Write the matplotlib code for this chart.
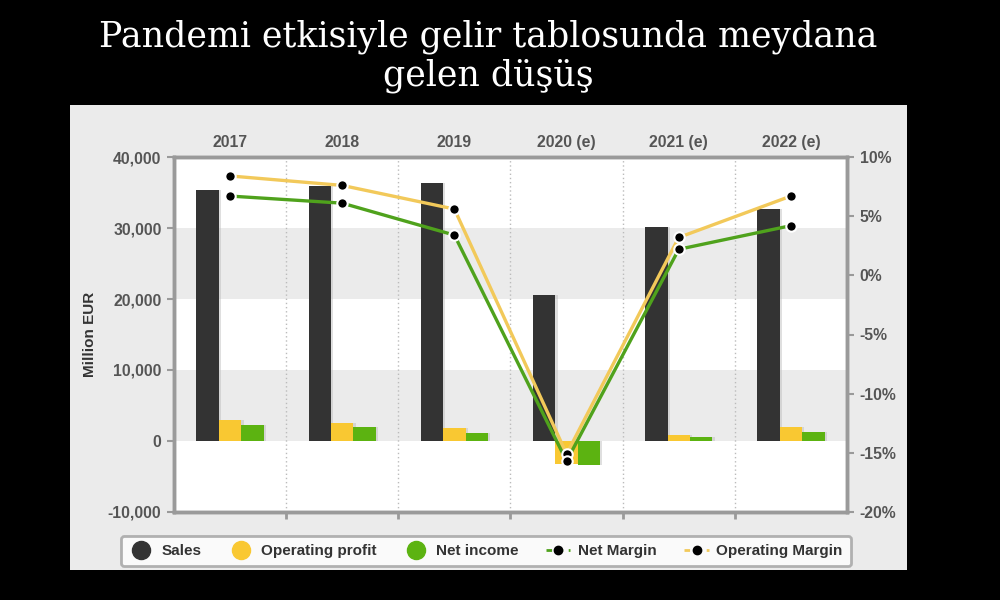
import matplotlib
matplotlib.use("Agg")
import matplotlib.pyplot as plt
import numpy as np
from matplotlib.lines import Line2D
from matplotlib.patches import Rectangle
from matplotlib.ticker import FuncFormatter

categories = ['2017', '2018', '2019', '2020 (e)', '2021 (e)', '2022 (e)']
sales = [35300, 35900, 36300, 20600, 30100, 32700]
operating_profit = [2900, 2600, 1800, -3300, 900, 2000]
net_income = [2200, 2000, 1100, -3400, 500, 1300]
operating_margin = [8.4, 7.6, 5.6, -15.1, 3.2, 6.7]
net_margin = [6.7, 6.1, 3.4, -15.7, 2.2, 4.2]
left_ticks = [-10000, 0, 10000, 20000, 30000, 40000]
right_ticks = [-20, -15, -10, -5, 0, 5, 10]

C_SALES = '#333333'
C_OP = '#F9C832'
C_NET = '#5CB311'
C_OPL = '#F2C95A'
C_NETL = '#4FA21C'
TICK_C = '#555555'
SPINE_C = '#9A9A9A'
FONT = 'Liberation Sans'

fig = plt.figure(figsize=(10, 6), dpi=100, facecolor='black')

# grey panel
fig.patches.append(Rectangle((0.07, 0.05), 0.837, 0.775, transform=fig.transFigure,
                             facecolor='#EBEBEB', edgecolor='none', zorder=0))

fig.text(0.4885, 0.9217, 'Pandemi etkisiyle gelir tablosunda meydana', ha='center', va='baseline',
         color='white', fontsize=25, family='DejaVu Serif')
fig.text(0.4885, 0.8567, 'gelen düşüş', ha='center', va='baseline',
         color='white', fontsize=25, family='DejaVu Serif')

ax = fig.add_axes([0.174, 0.1467, 0.673, 0.5916])
ax.set_facecolor('white')
ax.set_zorder(1)
x = np.arange(len(categories))
ax.set_xlim(-0.5, len(categories) - 0.5)
ax.set_ylim(-10000, 40000)

# horizontal bands
for lo, hi in [(0, 10000), (20000, 30000)]:
    ax.axhspan(lo, hi, color='#EBEBEB', zorder=0, lw=0)
# dotted separators
for b in np.arange(0.5, len(categories) - 0.5, 1):
    ax.axvline(b, color='#BBBBBB', ls=(0, (1, 2)), lw=1, zorder=0.5)

w = 0.2
# faint shadows
for off, vals in [(-w, sales), (0, operating_profit), (w, net_income)]:
    ax.bar(x + off + 0.02, vals, w, color='#B8B8B8', alpha=0.45, zorder=1.5)
ax.bar(x - w, sales, w, color=C_SALES, zorder=2)
ax.bar(x, operating_profit, w, color=C_OP, zorder=2)
ax.bar(x + w, net_income, w, color=C_NET, zorder=2)

ax.set_yticks(left_ticks)
ax.yaxis.set_major_formatter(FuncFormatter(lambda v, p: f'{int(v):,}'))
ax.set_xticks(np.arange(0.5, len(categories) - 0.5, 1))
ax.set_xticklabels([])
ax.tick_params(axis='x', direction='out', length=5, width=2, color=SPINE_C)
ax.tick_params(axis='y', direction='out', length=5, width=1.5, color=SPINE_C,
               labelcolor=TICK_C, labelsize=11.3, pad=4)
for lab in ax.get_yticklabels():
    lab.set_fontweight('bold'); lab.set_family(FONT)
for s in ax.spines.values():
    s.set_color(SPINE_C); s.set_linewidth(2.5)
ax.set_ylabel('Million EUR', fontsize=11, fontweight='bold', family=FONT, color='#333333', labelpad=8)

top = ax.secondary_xaxis('top')
top.set_xticks(x)
top.set_xticklabels(categories)
top.tick_params(length=0, labelcolor=TICK_C, labelsize=11.3, pad=5)
for lab in top.get_xticklabels():
    lab.set_fontweight('bold'); lab.set_family(FONT)
top.spines['top'].set_visible(False)

ax2 = ax.twinx()
ax2.set_ylim(-20, 10)
ax2.set_yticks(right_ticks)
ax2.yaxis.set_major_formatter(FuncFormatter(lambda v, p: f'{int(v)}%'))
ax2.tick_params(axis='y', direction='out', length=5, width=1.5, color=SPINE_C,
                labelcolor=TICK_C, labelsize=11.3, pad=4)
for lab in ax2.get_yticklabels():
    lab.set_fontweight('bold'); lab.set_family(FONT)
for s in ax2.spines.values():
    s.set_color(SPINE_C); s.set_linewidth(2.5)

ax2.plot(x, operating_margin, color=C_OPL, lw=2.4, zorder=3)
ax2.plot(x, net_margin, color=C_NETL, lw=2.4, zorder=3)
ax2.plot(x, operating_margin, ls='none', marker='o', ms=7.5, mfc='black', mec='white', mew=1.5, zorder=4)
ax2.plot(x, net_margin, ls='none', marker='o', ms=7.5, mfc='black', mec='white', mew=1.5, zorder=4)

handles = [
    Line2D([], [], ls='none', marker='o', ms=13, mfc=C_SALES, mec=C_SALES),
    Line2D([], [], ls='none', marker='o', ms=13, mfc=C_OP, mec=C_OP),
    Line2D([], [], ls='none', marker='o', ms=13, mfc=C_NET, mec=C_NET),
    Line2D([], [], color=C_NETL, ls=(0, (2, 2)), lw=2, marker='o', ms=6, mfc='black', mec='black'),
    Line2D([], [], color=C_OPL, ls=(0, (2, 2)), lw=2, marker='o', ms=6, mfc='black', mec='black'),
]
labels = ['Sales', 'Operating profit', 'Net income', 'Net Margin', 'Operating Margin']
leg = fig.legend(handles, labels, loc='center', bbox_to_anchor=(0.486, 0.0817), ncol=5,
                 frameon=True, fancybox=True, handlelength=1.6, columnspacing=1.8, handletextpad=0.5,
                 prop={'family': FONT, 'weight': 'bold', 'size': 11}, borderpad=0.55)
leg.get_frame().set_edgecolor('#A0A0A0')
leg.get_frame().set_linewidth(2)
leg.get_frame().set_facecolor('white')
for t in leg.get_texts():
    t.set_color('#333333')

fig.savefig('out.png', dpi=100, facecolor='black')
